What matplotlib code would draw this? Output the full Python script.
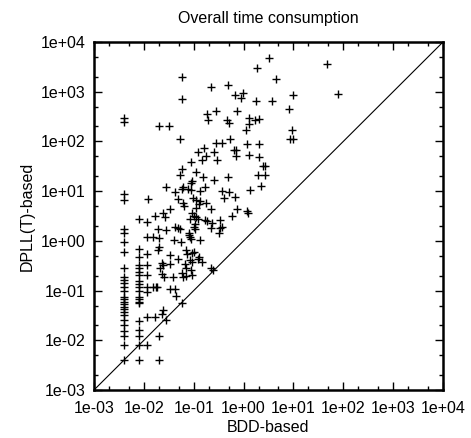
import matplotlib
matplotlib.use("Agg")
import matplotlib.pyplot as plt
from matplotlib.ticker import LogLocator, NullFormatter, FixedLocator

plt.rcParams['font.family'] = ['Liberation Sans', 'DejaVu Sans']

# BDD-based time (x) vs DPLL(T)-based time (y), seconds
bdd = [
    0.057, 0.059, 0.020, 0.032, 0.052, 3.3, 1.9, 48, 4.4, 0.22, 0.49,
    0.68, 0.97, 0.90, 1.74, 3.7, 10, 78, 8.3, 0.185, 0.28, 0.19, 0.73,
    0.47, 0.52, 1.3, 1.66, 2.06, 1.29, 1.1, 9.5, 8.6, 10, 0.28, 0.375,
    0.53, 1.19, 2.0, 0.158, 0.123, 0.255, 0.174, 0.149, 0.295, 0.63,
    0.72, 0.72, 1.26, 2.0, 0.09, 2.43, 2.63, 0.058, 0.052, 0.11, 0.153,
    0.26, 0.485, 0.093, 0.089, 1.93, 2.75, 2.26, 0.028, 0.042, 0.060,
    0.058, 0.077, 0.089, 0.166, 0.132, 0.37, 0.50, 0.41, 0.68, 1.33,
    0.012, 0.0485, 0.061, 0.065, 0.097, 0.11, 0.132, 0.18, 0.22, 0.113,
    0.092, 0.10, 0.74, 1.16, 1.2, 0.58, 0.0166, 0.024, 0.027, 0.033,
    0.086, 0.122, 0.113, 0.166, 0.185, 0.33, 0.23, 0.019, 0.028, 0.042,
    0.048, 0.054, 0.10, 0.108, 0.105, 0.226, 0.342, 0.32, 0.375, 0.0153,
    0.020, 0.080, 0.079, 0.086, 0.040, 0.055, 0.09, 0.132, 0.020, 0.019,
    0.069, 0.094, 0.073, 0.10, 0.033, 0.0485, 0.128, 0.083, 0.0226,
    0.024, 0.033, 0.066, 0.094, 0.149, 0.021, 0.0226, 0.057, 0.069,
    0.090, 0.061, 0.094, 0.039, 0.071, 0.226, 0.24, 0.0153, 0.0185,
    0.033, 0.042, 0.12, 0.045, 0.059, 0.0118, 0.0166, 0.0226, 0.0243,
    0.0275, 0.020, 0.020, 0.0118, 0.0118, 0.0118, 0.0118, 0.0118,
    0.0118, 0.0118, 0.0118, 0.0179, 0.025, 0.13,
    # first column
    0.004, 0.004, 0.004, 0.004, 0.004, 0.004, 0.004, 0.004, 0.004,
    0.004, 0.004, 0.004, 0.004, 0.004, 0.004, 0.004, 0.004, 0.004,
    0.004, 0.004, 0.004, 0.004, 0.004, 0.004, 0.004, 0.004, 0.004,
    0.004,
    # second column
    0.0081, 0.0081, 0.0081, 0.0081, 0.0081, 0.0081, 0.0081, 0.0081,
    0.0081, 0.0081, 0.0081, 0.0081, 0.0081, 0.0081, 0.0081, 0.0081,
    0.0081, 0.0081, 0.0081, 0.0081,
]
dpll = [
    1950, 700, 200, 200, 110, 4700, 3000, 3600, 1800, 1270, 1370,
    860, 930, 760, 650, 660, 860, 900, 440, 350, 400, 270, 400,
    270, 235, 290, 270, 280, 220, 170, 168, 114, 114, 92, 95,
    113, 89, 90, 75, 62, 62, 51, 43, 42, 68,
    67, 51, 54, 48, 39, 32, 32, 28, 21, 24, 19.6,
    17, 19, 16, 14.8, 21.5, 21.5, 12.9, 12, 9.8, 12.2,
    10.9, 10.9, 10.6, 11.9, 10.2, 10.2, 9.7, 7.4, 7.5, 10.4,
    7.0, 6.9, 5.7, 5.0, 7.3, 6.6, 6.4, 5.8, 4.4, 4.5,
    3.6, 3.2, 4.4, 3.9, 3.6, 3.2, 3.2, 3.7, 3.0, 4.4,
    2.7, 2.7, 3.0, 2.6, 2.5, 2.6, 2.3, 1.7, 1.66, 1.93,
    1.84, 1.71, 1.93, 2.16, 1.7, 1.8, 1.8, 1.42, 1.93, 1.22,
    1.13, 1.46, 1.3, 1.2, 1.04, 0.96, 1.08, 1.04, 0.74, 0.66,
    0.66, 0.58, 0.54, 0.61, 0.52, 0.43, 0.48, 0.41, 0.36,
    0.33, 0.35, 0.34, 0.37, 0.38, 0.28, 0.22, 0.23, 0.28,
    0.26, 0.19, 0.21, 0.185, 0.20, 0.28, 0.26, 0.12, 0.12,
    0.108, 0.107, 0.43, 0.078, 0.057, 0.029, 0.029, 0.034, 0.041,
    0.026, 0.012, 0.004, 0.008, 2.4, 1.18, 0.54, 0.33, 0.21,
    0.116, 0.095, 0.116, 0.19, 5.5,
    # first column
    290, 250, 8.6, 6.6, 1.71, 1.42, 0.96, 0.61, 0.29,
    0.185, 0.163, 0.14, 0.12, 0.10, 0.075, 0.067, 0.060, 0.053,
    0.047, 0.042, 0.037, 0.032, 0.026, 0.020, 0.0156, 0.0122, 0.008,
    0.004,
    # second column
    2.7, 0.68, 0.47, 0.33, 0.28, 0.24, 0.21, 0.156,
    0.134, 0.116, 0.10, 0.075, 0.067, 0.060, 0.057, 0.024,
    0.016, 0.0122, 0.008, 0.004,
]

lims = [1e-3, 1e4]
tick_labels = ['1e-03', '1e-02', '1e-01', '1e+00', '1e+01', '1e+02', '1e+03', '1e+04']
decades = [1e-3, 1e-2, 1e-1, 1e0, 1e1, 1e2, 1e3, 1e4]

fig = plt.figure(figsize=(4.71, 4.38), dpi=100)
ax = fig.add_axes([94/471, 1 - 390/438, 349/471, 348/438])

ax.plot(lims, lims, color='black', linewidth=0.8)
ax.plot(bdd, dpll, linestyle='none', marker='+', color='black',
        markersize=5.5, markeredgewidth=1.0)

ax.set_xscale('log')
ax.set_yscale('log')
ax.set_xlim(lims)
ax.set_ylim(lims)

for axis in (ax.xaxis, ax.yaxis):
    axis.set_major_locator(FixedLocator(decades))
    axis.set_minor_locator(LogLocator(base=10, subs=(2.0, 5.0)))
    axis.set_minor_formatter(NullFormatter())
ax.set_xticklabels(tick_labels)
ax.set_yticklabels(tick_labels)

ax.tick_params(which='both', direction='in', top=True, right=True,
               labelsize=11.5, width=1.0)
ax.tick_params(which='major', length=6, pad=6)
ax.tick_params(axis='x', which='major', pad=8)
ax.tick_params(which='minor', length=3)
for s in ax.spines.values():
    s.set_linewidth(1.8)

ax.set_title('Overall time consumption', fontsize=11.5, pad=14)
ax.set_xlabel('BDD-based', fontsize=11.5, labelpad=3)
ax.set_ylabel('DPLL(T)-based', fontsize=11.5, labelpad=4)

fig.savefig('out.png', dpi=100)
